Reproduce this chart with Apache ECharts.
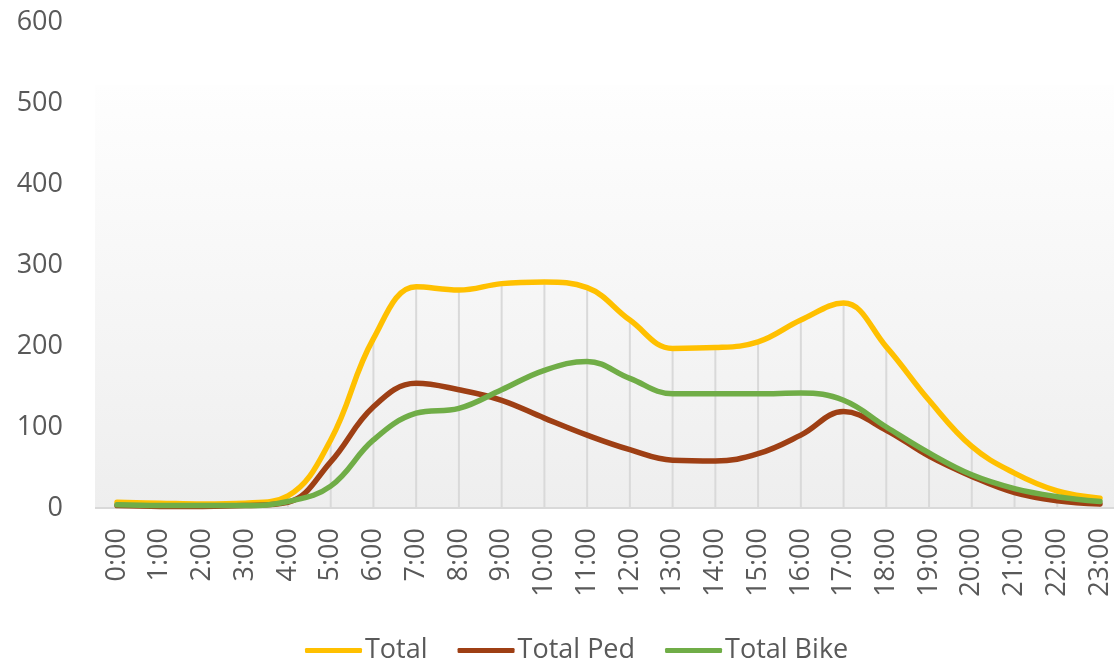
<!DOCTYPE html>
<html>
<head>
<meta charset="utf-8">
<script src="https://cdn.jsdelivr.net/npm/echarts@6/dist/echarts.min.js"></script>
<style>
html,body{margin:0;padding:0;background:#fff;}
#chart{width:1114px;height:662px;}
</style>
</head>
<body>
<div id="chart"></div>
<script>
const hours = ['0:00','1:00','2:00','3:00','4:00','5:00','6:00','7:00','8:00','9:00','10:00','11:00','12:00','13:00','14:00','15:00','16:00','17:00','18:00','19:00','20:00','21:00','22:00','23:00'];
const totalVals = [7, 6, 5, 6, 15, 84, 209, 273, 269, 277, 279, 272, 232, 197, 198, 205, 232, 253, 199, 133, 76, 43, 21, 12];
const pedVals   = [3, 2, 2, 3, 7, 57, 125, 154, 146, 133, 111, 90, 72, 59, 58, 67, 90, 119, 96, 64, 39, 19, 9, 5];
const bikeVals  = [4, 3, 3, 3, 8, 27, 84, 117, 123, 146, 170, 181, 160, 141, 141, 141, 142, 133, 100, 68, 41, 24, 14, 8];
const yTicks = [0, 100, 200, 300, 400, 500, 600];

const FONT = '"Open Sans", "Noto Sans", sans-serif';
const SMOOTH = 0.4;
const chart = echarts.init(document.getElementById('chart'), null, {renderer: 'canvas'});
chart.setOption({
  animation: false,
  backgroundColor: '#ffffff',
  graphic: [
    {
      type: 'rect',
      z: -10,
      silent: true,
      shape: {x: 95, y: 85, width: 1030, height: 423},
      style: {
        fill: new echarts.graphic.LinearGradient(0, 0, 0, 1, [
          {offset: 0, color: '#fefefe'},
          {offset: 1, color: '#eeeeee'}
        ])
      }
    },
    {
      type: 'line',
      z: -5,
      silent: true,
      shape: {x1: 95, y1: 508, x2: 1114, y2: 508},
      style: {stroke: '#d9d9d9', lineWidth: 2}
    }
  ],
  grid: {left: 117, top: 22, right: 14, bottom: 154, containLabel: false},
  legend: {
    left: 300,
    top: 632,
    itemWidth: 57,
    itemHeight: 5,
    itemGap: 30,
    icon: 'roundRect',
    textStyle: {fontFamily: FONT, fontSize: 27, color: '#595959', padding: [0, 0, 0, -2]},
    data: ['Total', 'Total Ped', 'Total Bike']
  },
  xAxis: {
    type: 'category',
    data: hours,
    boundaryGap: false,
    axisLine: {show: false},
    axisTick: {show: false},
    splitLine: {show: false},
    axisLabel: {rotate: 90, interval: 0, margin: 20, fontFamily: FONT, fontSize: 27, color: '#595959'}
  },
  yAxis: {
    type: 'value',
    min: yTicks[0],
    max: yTicks[yTicks.length - 1],
    interval: 100,
    axisLine: {show: false},
    axisTick: {show: false},
    splitLine: {show: false},
    axisLabel: {margin: 54, fontFamily: FONT, fontSize: 27, color: '#595959'}
  },
  series: [
    {
      name: 'drop',
      type: 'bar',
      data: totalVals,
      barWidth: 2,
      silent: true,
      z: 1,
      itemStyle: {color: '#d9d9d9'},
      legendHoverLink: false
    },
    {
      name: 'Total', type: 'line', data: totalVals, smooth: SMOOTH, showSymbol: false, symbol: 'none', z: 5,
      lineStyle: {color: '#FFC000', width: 5.5, cap: 'round'}, itemStyle: {color: '#FFC000'}
    },
    {
      name: 'Total Ped', type: 'line', data: pedVals, smooth: SMOOTH, showSymbol: false, symbol: 'none', z: 6,
      lineStyle: {color: '#9E3F14', width: 5.5, cap: 'round'}, itemStyle: {color: '#9E3F14'}
    },
    {
      name: 'Total Bike', type: 'line', data: bikeVals, smooth: SMOOTH, showSymbol: false, symbol: 'none', z: 7,
      lineStyle: {color: '#70AD47', width: 5.5, cap: 'round'}, itemStyle: {color: '#70AD47'}
    }
  ]
});
</script>
</body>
</html>
